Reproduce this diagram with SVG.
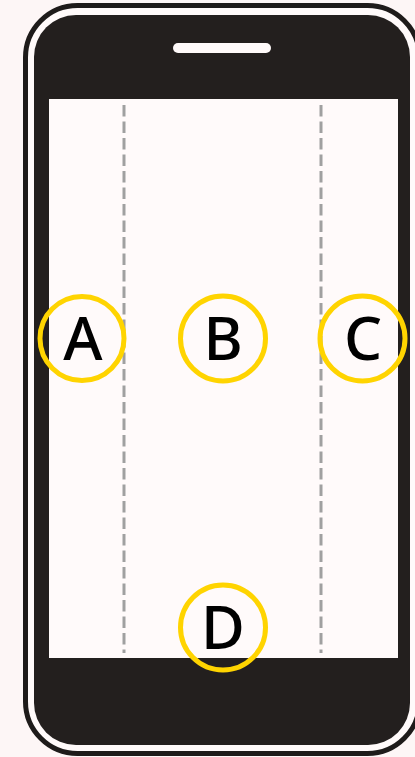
<svg xmlns="http://www.w3.org/2000/svg" width="415" height="757" viewBox="0 0 415 757">
  <style>
    .ring { fill: none; stroke: #ffd400; stroke-width: 5; }
    .lbl { font-family: "Noto Sans", "Liberation Sans", sans-serif; font-size: 60px; font-weight: 500; fill: #000; text-anchor: middle; }
    .guide { stroke: #a0a0a0; stroke-width: 3; stroke-dasharray: 11.5 5; fill: none; }
  </style>
  <rect x="0" y="0" width="415" height="757" fill="#fdf6f6"/>
  <g id="phone">
    <rect x="25.5" y="5.5" width="394" height="748" rx="52" ry="52" fill="#fffafa" stroke="#1e1b1a" stroke-width="5"/>
    <rect x="34" y="15" width="376" height="730" rx="42" ry="42" fill="#231f1e"/>
    <rect x="49" y="99" width="349" height="559" fill="#fffafa"/>
    <rect x="173" y="43" width="98" height="10" rx="5" ry="5" fill="#fffafa"/>
  </g>
  <g id="connectors">
    <line class="guide" x1="124" y1="105" x2="124" y2="653"/>
    <line class="guide" x1="321" y1="105" x2="321" y2="653"/>
  </g>
  <g id="A">
    <circle class="ring" cx="82" cy="338.5" r="42"/>
    <text class="lbl" x="83" y="360">A</text>
  </g>
  <g id="B">
    <circle class="ring" cx="223" cy="338.5" r="42.5"/>
    <text class="lbl" x="223" y="360">B</text>
  </g>
  <g id="C">
    <circle class="ring" cx="362.5" cy="338.5" r="42.5"/>
    <text class="lbl" x="363" y="360">C</text>
  </g>
  <g id="D">
    <circle class="ring" cx="223" cy="627.5" r="42.5"/>
    <text class="lbl" x="223" y="649">D</text>
  </g>
</svg>
